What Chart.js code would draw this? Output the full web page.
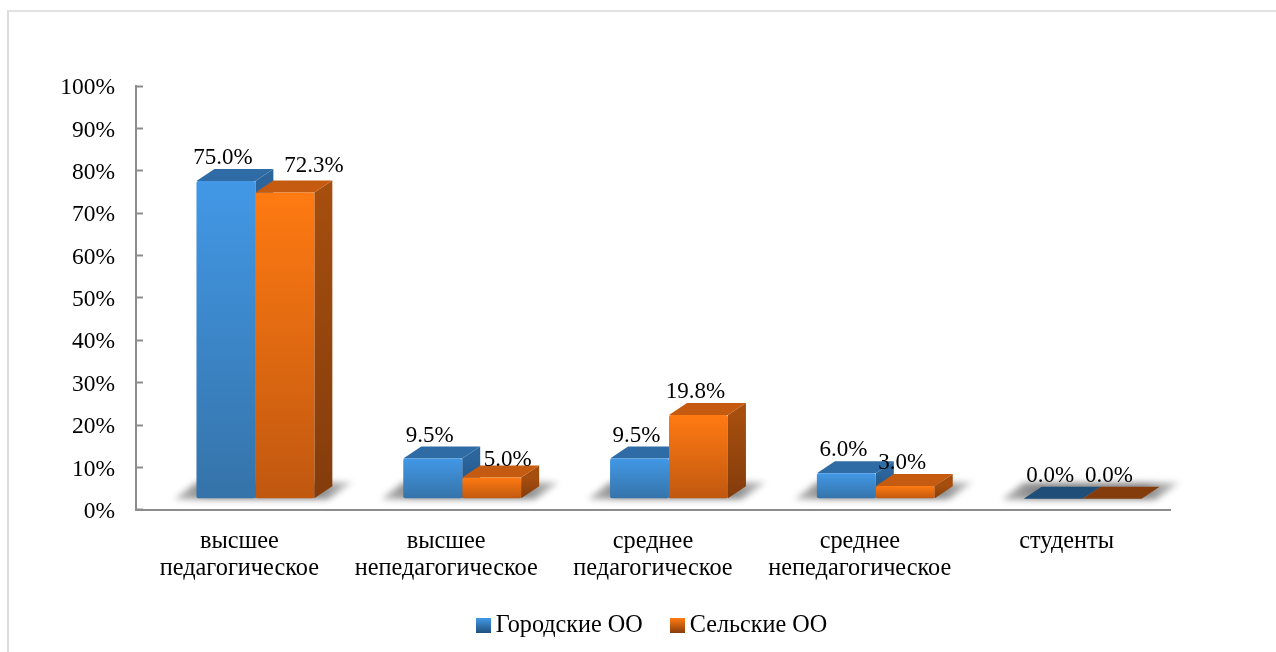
<!DOCTYPE html>
<html>
<head>
<meta charset="utf-8">
<style>
  html, body { margin:0; padding:0; background:#fff; overflow:hidden; }
  #wrap { position:relative; width:1276px; height:652px; overflow:hidden; }
  #frame { position:absolute; left:7px; top:10px; right:-4px; bottom:-4px; border-left:2px solid #dcdcdc; border-top:2px solid #e2e2e2; }
  #myChart { position:absolute; left:0; top:0; }
</style>
</head>
<body>
<div id="wrap">
  <div id="frame"></div>
  <canvas id="myChart" width="1276" height="652"></canvas>
</div>
<script src="https://cdn.jsdelivr.net/npm/chart.js@4/dist/chart.umd.min.js"></script>
<script>
const categories = [
  ['высшее', 'педагогическое'],
  ['высшее', 'непедагогическое'],
  ['среднее', 'педагогическое'],
  ['среднее', 'непедагогическое'],
  ['студенты']
];
const cityName = 'Городские ОО';
const villageName = 'Сельские ОО';
const cityValues = [75.0, 9.5, 9.5, 6.0, 0.0];
const villageValues = [72.3, 5.0, 19.8, 3.0, 0.0];
const yTicks = [0, 10, 20, 30, 40, 50, 60, 70, 80, 90, 100];

const serif = '"Liberation Serif", "Times New Roman", serif';

// colours of the fake 3d faces
const cityFaces = { light:'#4298e6', dark:'#3573a9', top:'#2f6ca6', sideTop:'#2b659c', sideBottom:'#1f4e79', flat:'#1f4e79' };
const villageFaces = { light:'#ff7a12', dark:'#c05810', top:'#c55a11', sideTop:'#a54e0e', sideBottom:'#843c0c', flat:'#843c0c' };
const faces = [cityFaces, villageFaces];

// the bars sit off the axis like in a 3d excel chart
const shiftX = 16;
const shiftY = -11;
const depthX = 18;
const depthY = 12;

function frontFill(f) {
  return (c) => {
    if (c.dataIndex === undefined || !c.chart.scales.y) return f.light;
    const y = c.chart.scales.y;
    const g = c.chart.ctx.createLinearGradient(0, y.getPixelForValue(c.raw), 0, y.getPixelForValue(0));
    g.addColorStop(0, f.light);
    g.addColorStop(1, f.dark);
    return g;
  };
}

function legendIcon(f) {
  const cv = document.createElement('canvas');
  cv.width = 15;
  cv.height = 15;
  const c = cv.getContext('2d');
  const g = c.createLinearGradient(0, 0, 0, 15);
  g.addColorStop(0, f.light);
  g.addColorStop(1, f.sideBottom);
  c.fillStyle = g;
  c.fillRect(0, 0, 15, 15);
  return cv;
}

function poly(ctx, pts, fill) {
  ctx.fillStyle = fill;
  ctx.beginPath();
  pts.forEach((p, i) => i ? ctx.lineTo(p[0], p[1]) : ctx.moveTo(p[0], p[1]));
  ctx.closePath();
  ctx.fill();
}

const bars3d = {
  id:'bars3d',
  afterLayout(chart) {
    // legend is centred a bit right of the plot
    chart.legend.left += 2;
    chart.legend.right += 2;
  },
  beforeDatasetsDraw(chart) {
    const ctx = chart.ctx;
    ctx.save();
    ctx.translate(shiftX, shiftY);

    // floor shadows
    const first = chart.getDatasetMeta(0).data;
    const second = chart.getDatasetMeta(1).data;
    first.forEach((bar, i) => {
      const L = bar.x - bar.width / 2;
      const R = second[i].x + second[i].width / 2;
      const B = bar.base;
      ctx.save();
      ctx.filter = 'blur(3px)';
      const g = ctx.createLinearGradient(L - 24, 0, R + 40, 0);
      g.addColorStop(0, '#bcbcbc');
      g.addColorStop(0.2, '#858585');
      g.addColorStop(0.8, '#858585');
      g.addColorStop(1, '#d4d4d4');
      poly(ctx, [[L - 22, B + 1], [L, B - 16], [R + 38, B - 16], [R + 14, B + 1]], g);
      ctx.restore();
    });

    // sides and tops, the library paints the fronts on top of them
    [0, 1].forEach((d) => {
      const f = faces[d];
      chart.getDatasetMeta(d).data.forEach((bar) => {
        const left = bar.x - bar.width / 2;
        const right = bar.x + bar.width / 2;
        const flat = Math.abs(bar.base - bar.y) < 1;
        if (!flat) {
          const g = ctx.createLinearGradient(0, bar.y, 0, bar.base);
          g.addColorStop(0, f.sideTop);
          g.addColorStop(1, f.sideBottom);
          poly(ctx, [[right, bar.y], [right + depthX, bar.y - depthY], [right + depthX, bar.base - depthY], [right, bar.base]], g);
        }
        poly(ctx, [[left, bar.y], [left + depthX, bar.y - depthY], [right + depthX, bar.y - depthY], [right, bar.y]], flat ? f.flat : f.top);
      });
    });
  },
  afterDatasetsDraw(chart) {
    const ctx = chart.ctx;
    ctx.restore();

    // value labels
    ctx.save();
    ctx.font = '23px ' + serif;
    ctx.fillStyle = '#000';
    ctx.textAlign = 'center';
    ctx.textBaseline = 'middle';
    [0, 1].forEach((d) => {
      const values = chart.data.datasets[d].data;
      chart.getDatasetMeta(d).data.forEach((bar, i) => {
        let x = bar.x + shiftX - 3;
        let y = bar.y + shiftY - 23;
        // excel moved these two aside so that they clear the neighbour bar
        if (d === 1 && i === 0) { x += 32; y -= 3; }
        if (d === 1 && i === 1) { x += 19; y += 5; }
        ctx.fillText(values[i].toFixed(1) + '%', x, y);
      });
    });
    ctx.restore();
  }
};

const data = {
  labels:categories,
  datasets:[
    { label:cityName, data:cityValues, backgroundColor:frontFill(cityFaces) },
    { label:villageName, data:villageValues, backgroundColor:frontFill(villageFaces) }
  ]
};

const axisGrey = '#8c8c8c';

const config = {
  type:'bar',
  data:data,
  plugins:[bars3d],
  options:{
    responsive:false,
    animation:false,
    clip:false,
    layout:{ padding:{ left:0, top:86, right:106, bottom:4 } },
    datasets:{ bar:{ categoryPercentage:0.57, barPercentage:1, borderRadius:2, borderSkipped:false } },
    scales:{
      x:{
        afterFit:(s) => { s.height = 70; },
        grid:{ display:false },
        border:{ display:true, color:axisGrey, width:2 },
        ticks:{ color:'#000', padding:10, maxRotation:0, minRotation:0, autoSkip:false, font:{ family:serif, size:24.3, lineHeight:1.11 } }
      },
      y:{
        min:0,
        max:100,
        afterFit:(s) => { s.width = 136; },
        afterBuildTicks:(s) => { s.ticks = yTicks.map((v) => ({ value:v })); },
        grid:{ drawOnChartArea:false, tickLength:-7, tickColor:axisGrey, tickWidth:2 },
        border:{ display:true, color:axisGrey, width:2 },
        ticks:{ color:'#000', padding:28, labelOffset:2, callback:(v) => v + '%', font:{ family:serif, size:23.5 } }
      }
    },
    plugins:{
      tooltip:{ enabled:false },
      legend:{
        position:'bottom',
        fullSize:false,
        labels:{
          color:'#000',
          font:{ family:serif, size:24.2 },
          usePointStyle:true,
          boxWidth:1,
          boxHeight:14,
          padding:34,
          generateLabels:(chart) => Chart.defaults.plugins.legend.labels.generateLabels(chart).map((item, i) => {
            item.pointStyle = legendIcon(faces[i]);
            return item;
          })
        }
      }
    }
  }
};

const myChart = new Chart(document.getElementById('myChart'), config);
</script>
</body>
</html>
